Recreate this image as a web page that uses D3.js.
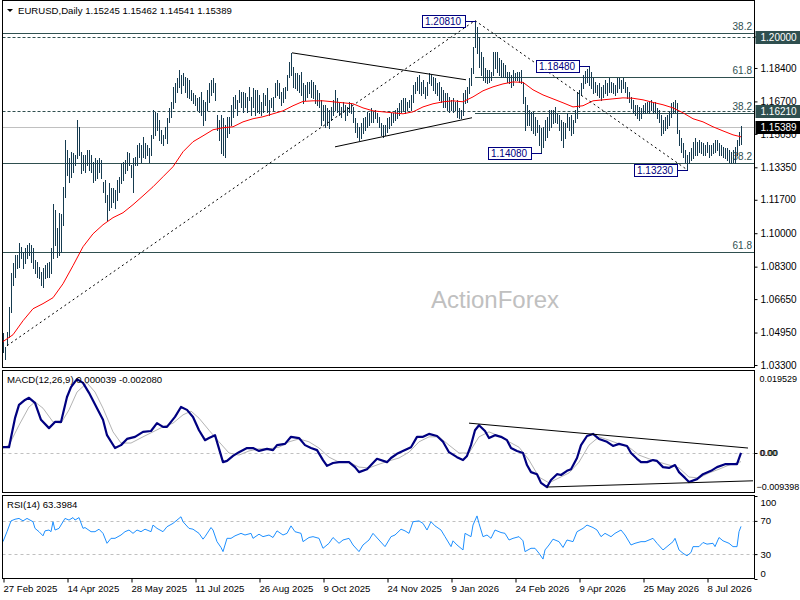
<!DOCTYPE html>
<html>
<head>
<meta charset="utf-8">
<script src="https://cdnjs.cloudflare.com/ajax/libs/d3/7.8.5/d3.min.js"></script>
<style>
  body { margin: 0; background: #fff; }
  svg { display: block; font-family: "Liberation Sans", Arial, sans-serif; }
</style>
</head>
<body>
<div id="chart"></div>
<script>
// ---- data (bar index 0 = 27 Feb 2025) ----
const highs = [
  1.0494,1.0423,1.0499,1.0626,1.0799,1.0850,1.0891,1.0891,1.0952,1.0931,
  1.0906,1.0926,1.0941,1.0952,1.0941,1.0926,1.0865,1.0855,1.0830,1.0804,
  1.0825,1.0840,1.0850,1.0855,1.0926,1.1150,1.1119,1.1028,1.1104,1.1099,
  1.1236,1.1475,1.1424,1.1383,1.1414,1.1409,1.1399,1.1576,1.1541,1.1414,
  1.1399,1.1399,1.1424,1.1424,1.1399,1.1363,1.1383,1.1373,1.1383,1.1373,
  1.1261,1.1272,1.1195,1.1256,1.1231,1.1231,1.1221,1.1272,1.1287,1.1358,
  1.1363,1.1373,1.1414,1.1409,1.1348,1.1383,1.1388,1.1449,1.1460,1.1449,
  1.1490,1.1460,1.1449,1.1434,1.1500,1.1627,1.1617,1.1612,1.1576,1.1526,
  1.1500,1.1541,1.1587,1.1637,1.1668,1.1744,1.1764,1.1790,1.1830,1.1805,
  1.1815,1.1795,1.1790,1.1780,1.1729,1.1714,1.1703,1.1688,1.1693,1.1719,
  1.1678,1.1668,1.1729,1.1764,1.1780,1.1790,1.1764,1.1602,1.1576,1.1602,
  1.1587,1.1551,1.1592,1.1592,1.1653,1.1693,1.1703,1.1678,1.1729,1.1719,
  1.1719,1.1714,1.1693,1.1744,1.1693,1.1739,1.1729,1.1729,1.1703,1.1668,
  1.1714,1.1703,1.1739,1.1678,1.1688,1.1693,1.1764,1.1780,1.1764,1.1719,
  1.1739,1.1744,1.1805,1.1871,1.1917,1.1846,1.1815,1.1815,1.1805,1.1820,
  1.1764,1.1754,1.1769,1.1769,1.1780,1.1769,1.1754,1.1729,1.1714,1.1678,
  1.1653,1.1653,1.1637,1.1627,1.1642,1.1678,1.1729,1.1688,1.1663,1.1642,
  1.1668,1.1653,1.1642,1.1668,1.1663,1.1642,1.1587,1.1561,1.1541,1.1561,
  1.1587,1.1592,1.1617,1.1612,1.1637,1.1617,1.1627,1.1612,1.1592,1.1561,
  1.1551,1.1551,1.1587,1.1592,1.1612,1.1612,1.1627,1.1637,1.1663,1.1678,
  1.1688,1.1688,1.1668,1.1678,1.1703,1.1754,1.1769,1.1795,1.1805,1.1769,
  1.1780,1.1744,1.1769,1.1815,1.1805,1.1795,1.1790,1.1764,1.1769,1.1744,
  1.1729,1.1714,1.1714,1.1693,1.1678,1.1688,1.1668,1.1678,1.1637,1.1627,
  1.1714,1.1729,1.1744,1.1790,1.1841,1.1947,1.2081,1.2049,1.1993,1.1922,
  1.1896,1.1841,1.1830,1.1830,1.1820,1.1922,1.1922,1.1922,1.1891,1.1881,
  1.1866,1.1856,1.1820,1.1820,1.1805,1.1830,1.1815,1.1820,1.1820,1.1830,
  1.1769,1.1693,1.1653,1.1627,1.1617,1.1617,1.1592,1.1576,1.1551,1.1536,
  1.1541,1.1576,1.1592,1.1627,1.1627,1.1627,1.1642,1.1612,1.1602,1.1576,
  1.1566,1.1561,1.1612,1.1592,1.1602,1.1576,1.1627,1.1719,1.1729,1.1764,
  1.1805,1.1825,1.1835,1.1848,1.1820,1.1790,1.1769,1.1754,1.1764,1.1744,
  1.1754,1.1780,1.1764,1.1790,1.1769,1.1764,1.1754,1.1790,1.1790,1.1780,
  1.1790,1.1769,1.1744,1.1719,1.1693,1.1678,1.1653,1.1653,1.1642,1.1637,
  1.1653,1.1663,1.1668,1.1668,1.1678,1.1663,1.1668,1.1637,1.1627,1.1602,
  1.1576,1.1592,1.1602,1.1617,1.1663,1.1668,1.1678,1.1663,1.1526,1.1485,
  1.1460,1.1424,1.1399,1.1414,1.1434,1.1465,1.1485,1.1465,1.1475,1.1465,
  1.1460,1.1449,1.1465,1.1449,1.1449,1.1460,1.1475,1.1475,1.1460,1.1449,
  1.1439,1.1434,1.1434,1.1424,1.1414,1.1424,1.1439,1.1475,1.1515,1.15462
];
const lows = [
  1.0398,1.0362,1.0433,1.0474,1.0601,1.0738,1.0779,1.0825,1.0830,1.0875,
  1.0825,1.0850,1.0875,1.0891,1.0855,1.0825,1.0799,1.0779,1.0774,1.0738,
  1.0728,1.0774,1.0779,1.0779,1.0799,1.0875,1.0941,1.0880,1.0891,1.0906,
  1.1043,1.1185,1.1297,1.1261,1.1287,1.1312,1.1348,1.1383,1.1399,1.1307,
  1.1322,1.1312,1.1348,1.1322,1.1312,1.1261,1.1272,1.1282,1.1312,1.1282,
  1.1211,1.1160,1.1068,1.1119,1.1134,1.1160,1.1129,1.1170,1.1211,1.1256,
  1.1272,1.1307,1.1322,1.1348,1.1287,1.1211,1.1348,1.1348,1.1388,1.1363,
  1.1388,1.1383,1.1399,1.1363,1.1399,1.1485,1.1500,1.1526,1.1475,1.1460,
  1.1449,1.1485,1.1460,1.1566,1.1592,1.1637,1.1668,1.1719,1.1744,1.1714,
  1.1754,1.1719,1.1693,1.1688,1.1678,1.1663,1.1653,1.1627,1.1617,1.1602,
  1.1551,1.1576,1.1627,1.1668,1.1703,1.1719,1.1678,1.1526,1.1475,1.1409,
  1.1399,1.1388,1.1490,1.1510,1.1551,1.1592,1.1637,1.1602,1.1668,1.1642,
  1.1617,1.1642,1.1617,1.1678,1.1602,1.1642,1.1602,1.1617,1.1612,1.1602,
  1.1617,1.1653,1.1617,1.1602,1.1642,1.1627,1.1693,1.1703,1.1688,1.1653,
  1.1668,1.1688,1.1729,1.1795,1.1805,1.1744,1.1739,1.1729,1.1719,1.1703,
  1.1663,1.1678,1.1693,1.1714,1.1693,1.1688,1.1663,1.1653,1.1642,1.1551,
  1.1576,1.1541,1.1551,1.1536,1.1576,1.1602,1.1627,1.1617,1.1602,1.1592,
  1.1617,1.1576,1.1602,1.1617,1.1612,1.1566,1.1515,1.1490,1.1475,1.1485,
  1.1510,1.1526,1.1541,1.1551,1.1566,1.1566,1.1587,1.1566,1.1541,1.1500,
  1.1490,1.1500,1.1515,1.1536,1.1551,1.1566,1.1576,1.1587,1.1602,1.1617,
  1.1627,1.1612,1.1627,1.1642,1.1627,1.1668,1.1714,1.1729,1.1714,1.1703,
  1.1714,1.1688,1.1703,1.1764,1.1754,1.1729,1.1714,1.1703,1.1678,1.1668,
  1.1642,1.1642,1.1627,1.1617,1.1627,1.1617,1.1627,1.1592,1.1587,1.1587,
  1.1602,1.1663,1.1668,1.1714,1.1754,1.1815,1.1947,1.1917,1.1846,1.1805,
  1.1780,1.1769,1.1764,1.1769,1.1780,1.1805,1.1841,1.1820,1.1805,1.1795,
  1.1795,1.1795,1.1769,1.1764,1.1744,1.1754,1.1780,1.1780,1.1769,1.1764,
  1.1663,1.1526,1.1551,1.1551,1.1526,1.1510,1.1500,1.1515,1.1449,1.1408,
  1.1439,1.1475,1.1490,1.1526,1.1541,1.1561,1.1566,1.1561,1.1526,1.1475,
  1.1439,1.1485,1.1541,1.1526,1.1500,1.1510,1.1566,1.1587,1.1642,1.1703,
  1.1739,1.1764,1.1769,1.1754,1.1739,1.1714,1.1719,1.1703,1.1693,1.1678,
  1.1693,1.1714,1.1703,1.1719,1.1719,1.1714,1.1703,1.1719,1.1739,1.1719,
  1.1739,1.1719,1.1688,1.1668,1.1637,1.1612,1.1602,1.1587,1.1576,1.1587,
  1.1612,1.1612,1.1617,1.1612,1.1627,1.1612,1.1617,1.1587,1.1566,1.1500,
  1.1510,1.1526,1.1536,1.1551,1.1592,1.1612,1.1617,1.1510,1.1449,1.1414,
  1.1388,1.1363,1.1323,1.1358,1.1373,1.1383,1.1399,1.1399,1.1414,1.1409,
  1.1399,1.1399,1.1414,1.1388,1.1399,1.1409,1.1414,1.1424,1.1399,1.1399,
  1.1388,1.1383,1.1373,1.1363,1.1358,1.1363,1.1358,1.1399,1.1449,1.14541
];

// red moving average, [bar, price]
const maLine = [
  [0,1.0449],[5,1.0484],[10,1.0555],[15,1.0616],[20,1.0642],[25,1.0672],[30,1.0743],[35,1.0835],
  [40,1.0931],[45,1.0997],[50,1.1043],[55,1.1079],[60,1.1104],[65,1.1145],[70,1.1190],[75,1.1236],
  [80,1.1287],[85,1.1338],[90,1.1414],[95,1.1465],[100,1.1495],[105,1.1526],[110,1.1536],[115,1.1541],
  [120,1.1566],[125,1.1582],[130,1.1592],[135,1.1607],[140,1.1622],[145,1.1648],[150,1.1670],[155,1.1673],
  [160,1.1673],[165,1.1668],[170,1.1663],[175,1.1658],[180,1.1637],[185,1.1622],[190,1.1617],[195,1.1612],
  [200,1.1607],[205,1.1617],[210,1.1642],[215,1.1658],[220,1.1668],[225,1.1673],[230,1.1668],[235,1.1693],
  [240,1.1724],[245,1.1744],[250,1.1759],[255,1.1769],[260,1.1767],[265,1.1729],[270,1.1703],[275,1.1683],
  [280,1.1663],[285,1.1642],[290,1.1648],[295,1.1673],[300,1.1678],[305,1.1683],[310,1.1688],[315,1.1686],
  [320,1.1678],[325,1.1665],[330,1.1653],[335,1.1637],[340,1.1612],[345,1.1582],[350,1.1566],[355,1.1541],
  [360,1.1520],[365,1.1500],[369,1.1490]
];

const macdMain = [
  [0,0.0014],[3,0.0014],[6,0.0084],[8,0.0116],[11,0.0128],[13,0.0133],[16,0.0121],[19,0.0080],[23,0.0060],
  [26,0.0075],[29,0.0075],[32,0.0135],[34,0.0159],[37,0.0178],[40,0.0169],[43,0.0145],[47,0.0108],[50,0.0080],
  [52,0.0043],[56,0.0012],[59,0.0019],[62,0.0034],[66,0.0039],[70,0.0051],[74,0.0053],[77,0.0072],[80,0.0063],
  [82,0.0063],[86,0.0087],[89,0.0111],[92,0.0104],[95,0.0087],[98,0.0055],[101,0.0031],[103,0.0036],[106,0.0043],
  [107,0.0027],[110,-0.0022],[112,-0.0019],[115,-0.0007],[118,0.0002],[122,0.0012],[125,0.0012],[128,0.0005],
  [132,0.0010],[135,0.0007],[137,0.0019],[141,0.0022],[144,0.0039],[148,0.0036],[151,0.0019],[154,0.0012],
  [157,0.0007],[160,-0.0017],[162,-0.0031],[165,-0.0024],[168,-0.0022],[173,-0.0022],[176,-0.0034],[178,-0.0046],
  [182,-0.0039],[187,-0.0014],[192,-0.0022],[194,-0.0012],[197,-0.0002],[201,0.0007],[204,0.0014],[207,0.0039],
  [210,0.0039],[213,0.0046],[217,0.0041],[220,0.0027],[223,0.0002],[227,-0.0010],[230,-0.0017],[232,-0.0007],
  [234,0.0019],[236,0.0055],[238,0.0067],[241,0.0053],[243,0.0036],[246,0.0043],[249,0.0039],[252,0.0031],
  [254,0.0012],[257,0.0005],[260,0.0000],[262,-0.0029],[264,-0.0046],[267,-0.0051],[269,-0.0072],[272,-0.0082],
  [274,-0.0065],[277,-0.0051],[279,-0.0053],[282,-0.0043],[284,-0.0039],[287,-0.0012],[289,0.0019],[292,0.0041],
  [295,0.0046],[298,0.0034],[302,0.0027],[305,0.0017],[308,0.0022],[312,0.0017],[314,0.0000],[317,-0.0014],
  [319,-0.0022],[322,-0.0022],[325,-0.0017],[327,-0.0019],[330,-0.0034],[333,-0.0036],[336,-0.0029],[338,-0.0046],
  [341,-0.0060],[343,-0.0070],[347,-0.0063],[350,-0.0051],[354,-0.0043],[357,-0.0034],[361,-0.0027],[365,-0.0027],
  [367,-0.0027],[369,0.000039]
];
const macdSignal = [
  [0,0.0012],[3,0.0019],[8,0.0067],[13,0.0111],[16,0.0123],[20,0.0108],[25,0.0075],[29,0.0072],[33,0.0104],
  [37,0.0147],[42,0.0169],[46,0.0147],[50,0.0108],[55,0.0051],[59,0.0024],[64,0.0024],[70,0.0039],[75,0.0051],
  [80,0.0063],[85,0.0072],[90,0.0092],[94,0.0101],[98,0.0084],[103,0.0055],[108,0.0027],[113,0.0000],[118,-0.0005],
  [123,0.0005],[128,0.0010],[133,0.0010],[138,0.0014],[143,0.0027],[148,0.0034],[153,0.0027],[158,0.0012],
  [163,-0.0010],[168,-0.0022],[173,-0.0022],[178,-0.0034],[183,-0.0036],[188,-0.0027],[193,-0.0019],[198,-0.0012],
  [203,0.0002],[208,0.0027],[213,0.0039],[218,0.0039],[223,0.0019],[228,0.0000],[233,0.0000],[238,0.0039],
  [243,0.0051],[248,0.0041],[253,0.0027],[258,0.0014],[263,-0.0017],[268,-0.0058],[273,-0.0072],[278,-0.0060],
  [283,-0.0048],[288,-0.0022],[293,0.0019],[298,0.0039],[303,0.0031],[308,0.0022],[313,0.0014],[318,-0.0005],
  [323,-0.0014],[328,-0.0022],[333,-0.0029],[338,-0.0036],[343,-0.0058],[348,-0.0060],[353,-0.0048],[358,-0.0039],
  [363,-0.0029],[369,-0.002080]
];
const macdTrend = [
  [[233,0.0072],[372.5,0.0012]],
  [[272,-0.0082],[375,-0.0067]]
];

const rsi = [
  [0,45],[2,57],[4,70],[6,72],[8,73],[10,70],[12,73],[15,69],[16,61],[18,57],[20,52],[21,58],[23,59],[24,57],
  [25,69],[26,59],[28,61],[30,69],[31,73],[33,71],[35,74],[36,71],[38,74],[40,61],[41,62],[44,57],[46,57],
  [48,60],[50,55],[52,43],[54,49],[56,49],[59,53],[61,57],[63,59],[65,55],[67,59],[69,57],[71,60],[74,57],
  [75,65],[77,61],[80,57],[82,63],[85,67],[87,71],[89,75],[90,69],[93,61],[95,60],[98,55],[100,48],[101,51],
  [104,62],[105,59],[107,45],[109,38],[110,33],[112,49],[114,49],[116,52],[119,55],[121,53],[124,55],[125,49],
  [128,54],[130,51],[133,53],[135,50],[137,58],[140,53],[142,55],[144,64],[146,57],[149,55],[150,45],[153,50],
  [155,51],[158,49],[160,37],[163,43],[165,50],[168,43],[170,47],[173,49],[175,41],[178,33],[180,41],[183,47],
  [185,55],[188,47],[191,39],[194,51],[196,53],[199,60],[201,58],[203,55],[205,69],[208,70],[210,67],[212,59],
  [214,69],[216,64],[219,59],[221,51],[224,39],[225,46],[227,41],[230,35],[231,55],[234,51],[235,65],[237,76],
  [238,67],[240,51],[242,53],[244,49],[246,59],[249,56],[251,55],[253,47],[255,49],[258,51],[260,46],[261,33],
  [264,37],[266,37],[268,31],[270,24],[271,35],[273,41],[275,48],[278,45],[280,38],[282,47],[285,45],[287,57],
  [290,61],[292,65],[295,62],[297,59],[299,51],[301,55],[304,51],[306,55],[309,59],[311,53],[314,41],[316,43],
  [319,45],[321,45],[325,49],[327,43],[330,35],[332,39],[335,45],[336,49],[338,35],[340,31],[342,28],[344,32],
  [345,39],[348,39],[350,44],[352,42],[355,43],[356,39],[358,50],[360,46],[363,43],[365,39],[367,39],[368,57],
  [369,63.3984]
];

// price levels and drawings
const fibLevels = [[1.2017,'38.2',-2],[1.1793,'61.8',236],[1.1613,'38.2',236],[1.1357,'38.2',-2],[1.0903,'61.8',-2]];
const dashedLevels = [1.2000, 1.1621];
const lastPrice = 1.15389;
const dottedLines = [[[2,1.0428],[236,1.2081]], [[236,1.2081],[342,1.1323]]];
const triangleLines = [[[144.5,1.1917],[231.5,1.1780]], [[166,1.1439],[234.5,1.1587]]];
const priceTags = [[236,1.2081,'1.20810'],[293,1.1848,'1.18480'],[269,1.1408,'1.14080'],[342,1.1323,'1.13230']];
const priceTicks = [1.2000,1.1840,1.1670,1.1505,1.1335,1.1170,1.1000,1.0830,1.0665,1.0495,1.0330];
const axisTags = [[1.2000,'1.20000','#2f4f4f'],[1.1621,'1.16210','#2f4f4f'],[1.15389,'1.15389','#000']];
const macdMax = 0.019529, macdMin = -0.009398;
const rsiTicks = [100, 70, 30, 0];
const rsiLevels = [70, 30];
const dateTicks = [0,32,64,96,128,160,192,224,256,288,320,352];
const dateLabels = ['27 Feb 2025','14 Apr 2025','28 May 2025','11 Jul 2025','26 Aug 2025','9 Oct 2025',
  '24 Nov 2025','9 Jan 2026','24 Feb 2026','9 Apr 2026','25 May 2026','8 Jul 2026'];

// ---- layout ----
const W = 800, H = 600;
const left = 2.5, right = 754.5;
const svg = d3.select('#chart').append('svg').attr('width', W).attr('height', H);

const x = d3.scaleLinear().domain([0, 369]).range([3, 741]);
const yP = d3.scaleLinear().domain([1.033, 1.2]).range([365, 36.5]);
const yM = d3.scaleLinear().domain([macdMin, macdMax]).range([492, 372]);
const yR = d3.scaleLinear().domain([0, 100]).range([579, 496]);
const px = v => Math.round(v) + 0.5;

const defs = svg.append('defs');
function clip(id, y0, y1) {
  defs.append('clipPath').attr('id', id).append('rect')
    .attr('x', left + 0.5).attr('y', y0).attr('width', right - left - 1).attr('height', y1 - y0);
  return 'url(#' + id + ')';
}

// ---- main price panel ----
const main = svg.append('g').attr('clip-path', clip('cMain', 1, 367));

main.append('text').attr('x', 495).attr('y', 308).attr('text-anchor', 'middle')
  .attr('font-size', 24).attr('fill', '#c0c0c0').text('ActionForex');

main.append('line').attr('x1', left).attr('x2', right)
  .attr('y1', px(yP(lastPrice))).attr('y2', px(yP(lastPrice))).attr('stroke', '#c0c0c0');

main.selectAll('line.dash').data(dashedLevels).enter().append('line')
  .attr('x1', left).attr('x2', right)
  .attr('y1', d => px(yP(d))).attr('y2', d => px(yP(d)))
  .attr('stroke', '#2f4f4f').attr('stroke-dasharray', '3,2');

main.selectAll('line.fib').data(fibLevels).enter().append('line')
  .attr('x1', d => x(d[2])).attr('x2', right)
  .attr('y1', d => px(yP(d[0]))).attr('y2', d => px(yP(d[0])))
  .attr('stroke', '#2f4f4f');

main.selectAll('text.fib').data(fibLevels).enter().append('text')
  .attr('x', 752).attr('y', d => yP(d[0]) - 3).attr('text-anchor', 'end')
  .attr('font-size', 10).attr('fill', '#2f4f4f').text(d => d[1]);

main.append('g').attr('shape-rendering', 'crispEdges')
  .selectAll('line').data(highs).enter().append('line')
  .attr('x1', (d, i) => px(x(i))).attr('x2', (d, i) => px(x(i)))
  .attr('y1', d => Math.round(yP(d))).attr('y2', (d, i) => Math.round(yP(lows[i])) + 1)
  .attr('stroke', '#163b50').attr('stroke-width', 1);

const lineP = d3.line().x(d => x(d[0])).y(d => yP(d[1]));
main.append('path').datum(maLine).attr('d', lineP)
  .attr('fill', 'none').attr('stroke', '#ff0000').attr('stroke-width', 1);

main.selectAll('path.dot').data(dottedLines).enter().append('path')
  .attr('d', lineP).attr('fill', 'none').attr('stroke', '#000').attr('stroke-dasharray', '2,3');

main.selectAll('path.tri').data(triangleLines).enter().append('path')
  .attr('d', lineP).attr('fill', 'none').attr('stroke', '#000');

const tag = main.selectAll('g.tag').data(priceTags).enter().append('g');
tag.append('line')
  .attr('x1', d => x(d[0]) - 10).attr('x2', d => x(d[0]) + 1)
  .attr('y1', d => px(yP(d[1]))).attr('y2', d => px(yP(d[1])))
  .attr('stroke', '#000080');
tag.append('rect')
  .attr('x', d => Math.round(x(d[0]) - 53) + 0.5).attr('y', d => Math.round(yP(d[1]) - 6) + 0.5)
  .attr('width', 43).attr('height', 12)
  .attr('fill', '#fff').attr('stroke', '#000080');
tag.append('text')
  .attr('x', d => x(d[0]) - 50).attr('y', d => yP(d[1]) + 4)
  .attr('font-size', 10).attr('fill', '#000080').text(d => d[2]);

// title
svg.append('path').attr('d', 'M7,9 L13,9 L10,12 Z').attr('fill', '#000');
svg.append('text').attr('x', 18).attr('y', 14).attr('font-size', 9.6).attr('fill', '#000')
  .text('EURUSD,Daily  1.15245 1.15462 1.14541 1.15389');

// price axis
const axP = svg.append('g').attr('transform', 'translate(' + right + ',0)')
  .call(d3.axisRight(yP).tickValues(priceTicks).tickFormat(d3.format('.5f')).tickSize(3).tickPadding(3));
axP.select('.domain').remove();
axP.selectAll('text').attr('font-size', 10);

const at = svg.selectAll('g.atag').data(axisTags).enter().append('g');
at.append('rect').attr('x', right + 1).attr('y', d => Math.round(yP(d[0])) - 6)
  .attr('width', W - right).attr('height', 13).attr('fill', d => d[2]);
at.append('text').attr('x', right + 6).attr('y', d => yP(d[0]) + 4)
  .attr('font-size', 10).attr('fill', '#fff').text(d => d[1]);

// ---- MACD panel ----
const mp = svg.append('g').attr('clip-path', clip('cMacd', 371, 492));
mp.append('line').attr('x1', left).attr('x2', right)
  .attr('y1', px(yM(0))).attr('y2', px(yM(0)))
  .attr('stroke', '#c0c0c0').attr('stroke-dasharray', '3,3');
const lineM = d3.line().x(d => x(d[0])).y(d => yM(d[1]));
mp.append('path').datum(macdSignal).attr('d', lineM)
  .attr('fill', 'none').attr('stroke', '#b4b4b4').attr('stroke-width', 1);
mp.append('path').datum(macdMain).attr('d', lineM)
  .attr('fill', 'none').attr('stroke', '#000080').attr('stroke-width', 2.2).attr('stroke-linejoin', 'round');
mp.selectAll('path.tr').data(macdTrend).enter().append('path')
  .attr('d', lineM).attr('fill', 'none').attr('stroke', '#000');
svg.append('text').attr('x', 7).attr('y', 383).attr('font-size', 9.6).attr('fill', '#000')
  .text('MACD(12,26,9) 0.000039 -0.002080');

const axM = svg.append('g').attr('transform', 'translate(' + right + ',0)')
  .call(d3.axisRight(yM).tickValues([macdMax, 0, macdMin])
    .tickFormat(d => d === 0 ? '0.00' : d3.format('.6f')(d)).tickSize(3).tickPadding(2));
axM.select('.domain').remove();
axM.selectAll('text').attr('font-size', 9)
  .attr('dx', d => d === macdMin ? -3 : 0)
  .attr('dy', d => d === macdMax ? '1.05em' : d === macdMin ? '-0.25em' : '0.32em');
axM.selectAll('.tick').filter(d => d !== 0).select('line').remove();
svg.append('text').attr('x', right + 6).attr('y', yM(0) + 3.3).attr('font-size', 9).text('0.00');

// ---- RSI panel ----
const rp = svg.append('g').attr('clip-path', clip('cRsi', 496, 578));
rp.selectAll('line.lv').data(rsiLevels).enter().append('line')
  .attr('x1', left).attr('x2', right)
  .attr('y1', d => px(yR(d))).attr('y2', d => px(yR(d)))
  .attr('stroke', '#c0c0c0').attr('stroke-dasharray', '3,3');
rp.append('path').datum(rsi).attr('d', d3.line().x(d => x(d[0])).y(d => yR(d[1])))
  .attr('fill', 'none').attr('stroke', '#1e90ff').attr('stroke-width', 1);
svg.append('text').attr('x', 7).attr('y', 508).attr('font-size', 9.6).attr('fill', '#000')
  .text('RSI(14) 63.3984');

const axR = svg.append('g').attr('transform', 'translate(' + right + ',0)')
  .call(d3.axisRight(yR).tickValues(rsiTicks).tickSize(3).tickPadding(3));
axR.select('.domain').remove();
axR.selectAll('text').attr('font-size', 9.5)
  .attr('dy', d => d === 100 ? '0.95em' : d === 0 ? '-0.3em' : '0.32em');

// ---- date axis ----
const axD = svg.append('g').attr('transform', 'translate(0,578.5)')
  .call(d3.axisBottom(x).tickValues(dateTicks).tickFormat((d, i) => dateLabels[i]).tickSize(4).tickPadding(3));
axD.select('.domain').remove();
axD.selectAll('.tick line').attr('transform', 'translate(0.5,0)');
axD.selectAll('text').attr('font-size', 9.6).attr('text-anchor', 'start').attr('dx', 0);

svg.selectAll('.tick text').attr('fill', '#000').attr('font-family', '"Liberation Sans", Arial, sans-serif');
svg.selectAll('.tick line').attr('stroke', '#000');

// ---- frames ----
const frames = [[0.5, 367.5], [370.5, 492.5], [495.5, 578.5]];
svg.selectAll('rect.frame').data(frames).enter().append('rect')
  .attr('x', left).attr('y', d => d[0]).attr('width', right - left).attr('height', d => d[1] - d[0])
  .attr('fill', 'none').attr('stroke', '#000').attr('stroke-width', 1);
</script>
</body>
</html>
